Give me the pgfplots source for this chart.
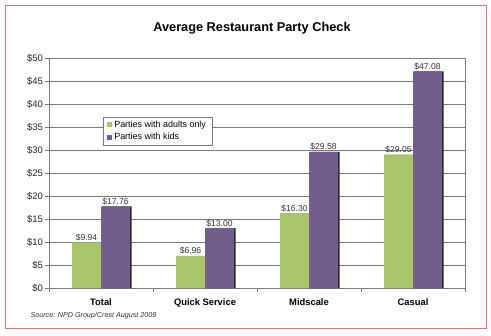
\documentclass[border=0pt]{standalone}
\usepackage{pgfplots}
\pgfplotsset{compat=1.18}
\usepackage{fontspec}
\setmainfont{Liberation Sans}
\definecolor{cgreen}{RGB}{169,196,106}
\definecolor{cpurple}{RGB}{115,93,143}
\definecolor{cframe}{RGB}{214,120,116}
\definecolor{cgrid}{RGB}{120,120,120}
\begin{document}
\begin{tikzpicture}[x=1bp,y=1bp]
\path (0,0) rectangle (491,335);
\draw[cframe,line width=0.8bp] (5,7) rectangle (486,330);
\node[font=\bfseries\fontsize{12.8}{15}\selectfont] at (252,307) {Average Restaurant Party Check};
\node[anchor=west,font=\itshape\fontsize{7.2}{8.5}\selectfont,text=black!80] at (27,19) {Source: NPD Group/Crest August 2009};
\begin{axis}[
  at={(49bp,47bp)}, anchor=south west,
  scale only axis, width=416bp, height=230bp,
  ymin=0, ymax=50, ytick={0,5,...,50},
  yticklabel={\$\pgfmathprintnumber{\tick}},
  xmin=-0.5, xmax=3.5,
  xtick={0,1,2,3},
  xticklabels={Total,Quick Service,Midscale,Casual},
  minor xtick={-0.5,0.5,1.5,2.5,3.5},
  major x tick style={draw=none},
  minor tick length=4bp,
  major tick length=4bp,
  tick align=outside,
  xtick pos=bottom, ytick pos=left,
  ymajorgrids,
  grid style={cgrid,line width=0.6bp},
  tick style={cgrid,line width=0.6bp},
  axis line style={cgrid,line width=0.6bp},
  /pgf/number format/assume math mode=true,
  yticklabel style={font=\fontsize{9.5}{11}\selectfont,text=black!85,inner sep=2bp},
  xticklabel style={font=\bfseries\fontsize{9.4}{11}\selectfont,yshift=-3bp},
  ybar, bar width=29bp,
  legend style={at={(0.13,0.745)},anchor=north west,draw=cgrid,fill=white,
     font=\fontsize{9}{10.5}\selectfont,inner xsep=4bp,inner ysep=2bp,row sep=0.5bp,cells={anchor=west}},
  legend image code/.code={\fill[#1,draw=none] (0bp,-2.5bp) rectangle (5bp,2.5bp);},
]
\addplot[fill=black!85,draw=none,bar shift=16bp,forget plot] coordinates {(0,17.76) (1,13.00) (2,29.58) (3,47.08)};
\addplot[fill=cgreen,draw=none,bar shift=-14.5bp,
  nodes near coords={\$\pgfmathprintnumber[fixed,fixed zerofill,precision=2]{\pgfplotspointmeta}},
  nodes near coords style={font=\fontsize{8.6}{10}\selectfont,text=black!80,inner sep=1.2bp}]
  coordinates {(0,9.94) (1,6.96) (2,16.30) (3,29.05)};
\addlegendentry{Parties with adults only}
\addplot[fill=cpurple,draw=none,bar shift=14.5bp,
  nodes near coords={\$\pgfmathprintnumber[fixed,fixed zerofill,precision=2]{\pgfplotspointmeta}},
  nodes near coords style={font=\fontsize{8.6}{10}\selectfont,text=black!80,inner sep=1.2bp}]
  coordinates {(0,17.76) (1,13.00) (2,29.58) (3,47.08)};
\addlegendentry{Parties with kids}
\end{axis}
\end{tikzpicture}
\end{document}
